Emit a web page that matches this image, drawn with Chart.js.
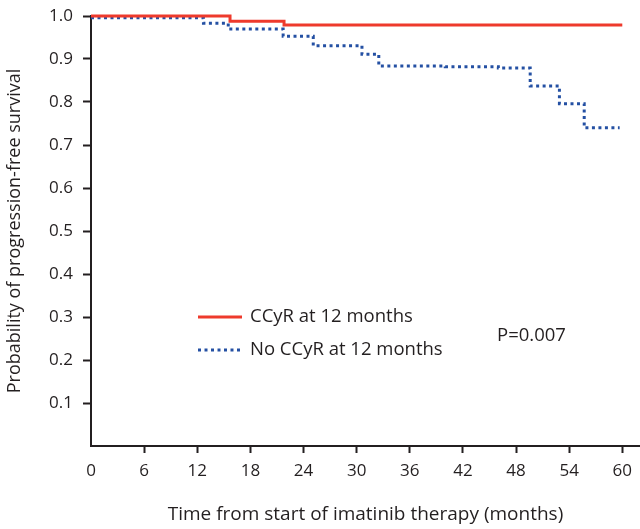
<!DOCTYPE html>
<html>
<head>
<meta charset="utf-8">
<script src="https://cdn.jsdelivr.net/npm/chart.js@4/dist/chart.umd.min.js"></script>
<style>
  html, body { margin: 0; padding: 0; background: #fff; }
  #wrap { width: 640px; height: 529px; position: relative; }
</style>
</head>
<body>
<div id="wrap"><canvas id="kmChart"></canvas></div>
<script>
// Kaplan-Meier curves (time in months, survival probability)
const ccyrTimes = [0, 15.7, 21.8, 60];
const ccyrSurv = [1.0, 0.988, 0.979, 0.979];

const noCcyrTimes = [0, 12.7, 15.5, 21.7, 25.1, 30.6, 32.5, 40, 46, 49.6, 52.9, 55.7, 59.7];
const noCcyrSurv = [0.996, 0.983, 0.970, 0.953, 0.931, 0.911, 0.884, 0.882, 0.879, 0.837, 0.796, 0.740, 0.740];

const xTicks = [0, 6, 12, 18, 24, 30, 36, 42, 48, 54, 60];
const yTicks = [0, 0.1, 0.2, 0.3, 0.4, 0.5, 0.6, 0.7, 0.8, 0.9, 1.0];

const seriesNames = ['CCyR at 12 months', 'No CCyR at 12 months'];
const pValueText = 'P=0.007';

const RED = '#ee3a2c';
const BLUE = '#2450a3';
const INK = '#231f20';
const FONT = '"Open Sans", Lato, sans-serif';

function toPoints(xs, ys) {
    return xs.map((x, i) => ({ x: x, y: ys[i] }));
}

// legend + p-value drawn inside the plot, like the original figure
const insideLegend = {
    id: 'insideLegend',
    afterDatasetsDraw(chart) {
        const ctx = chart.ctx;
        ctx.save();
        ctx.font = '18.5px ' + FONT;
        ctx.fillStyle = INK;
        ctx.textBaseline = 'middle';

        ctx.strokeStyle = RED;
        ctx.lineWidth = 3;
        ctx.beginPath();
        ctx.moveTo(198, 317);
        ctx.lineTo(242, 317);
        ctx.stroke();
        ctx.fillText(seriesNames[0], 250, 317);

        ctx.strokeStyle = BLUE;
        ctx.setLineDash([3, 3.5]);
        ctx.beginPath();
        ctx.moveTo(198, 350);
        ctx.lineTo(242, 350);
        ctx.stroke();
        ctx.setLineDash([]);
        ctx.fillText(seriesNames[1], 250, 350);

        ctx.fillText(pValueText, 497, 336);
        ctx.restore();
    }
};

new Chart(document.getElementById('kmChart').getContext('2d'), {
    type: 'line',
    data: {
        datasets: [{
            label: seriesNames[0],
            data: toPoints(ccyrTimes, ccyrSurv),
            borderColor: RED,
            borderWidth: 3,
            stepped: 'before',
            pointRadius: 0,
            fill: false,
            clip: false
        }, {
            label: seriesNames[1],
            data: toPoints(noCcyrTimes, noCcyrSurv),
            borderColor: BLUE,
            borderWidth: 3,
            borderDash: [3, 3.5],
            stepped: 'before',
            pointRadius: 0,
            fill: false,
            clip: false
        }]
    },
    options: {
        responsive: true,
        maintainAspectRatio: false,
        animation: false,
        layout: {
            padding: { top: 16, right: 0, left: 0, bottom: 0 }
        },
        plugins: {
            legend: { display: false },
            tooltip: { enabled: false }
        },
        scales: {
            x: {
                type: 'linear',
                min: 0,
                max: 62,
                afterFit: function (scale) {
                    scale.height = 83;
                    scale.paddingLeft = 0;
                    scale.paddingRight = 0;
                },
                afterBuildTicks: function (scale) {
                    scale.ticks = xTicks.map(v => ({ value: v }));
                },
                ticks: {
                    color: INK,
                    font: { family: FONT, size: 17 },
                    padding: 8,
                    maxRotation: 0,
                    autoSkip: false,
                    callback: function (value) { return String(value); }
                },
                grid: {
                    drawOnChartArea: false,
                    tickLength: 7,
                    tickWidth: 2,
                    tickColor: function (c) { return c.tick && c.tick.value === 0 ? 'rgba(0,0,0,0)' : INK; }
                },
                border: { display: true, color: INK, width: 2 },
                title: {
                    display: true,
                    text: 'Time from start of imatinib therapy (months)',
                    color: INK,
                    font: { family: FONT, size: 19 },
                    padding: { top: 0, bottom: 3 }
                }
            },
            y: {
                type: 'linear',
                min: 0,
                max: 1,
                afterFit: function (scale) {
                    scale.width = 91;
                    scale.paddingTop = 0;
                    scale.paddingBottom = 0;
                },
                afterBuildTicks: function (scale) {
                    scale.ticks = yTicks.map(v => ({ value: v }));
                },
                ticks: {
                    color: INK,
                    font: { family: FONT, size: 17 },
                    padding: 10,
                    autoSkip: false,
                    callback: function (value) { return value === 0 ? '' : value.toFixed(1); }
                },
                grid: {
                    drawOnChartArea: false,
                    tickLength: 8,
                    tickWidth: 2,
                    tickColor: function (c) { return c.tick && c.tick.value === 0 ? 'rgba(0,0,0,0)' : INK; }
                },
                border: { display: true, color: INK, width: 2 },
                title: {
                    display: true,
                    text: 'Probability of progression-free survival',
                    color: INK,
                    font: { family: FONT, size: 18 },
                    padding: { top: 4, bottom: 4 }
                }
            }
        }
    },
    plugins: [insideLegend]
});
</script>
</body>
</html>
